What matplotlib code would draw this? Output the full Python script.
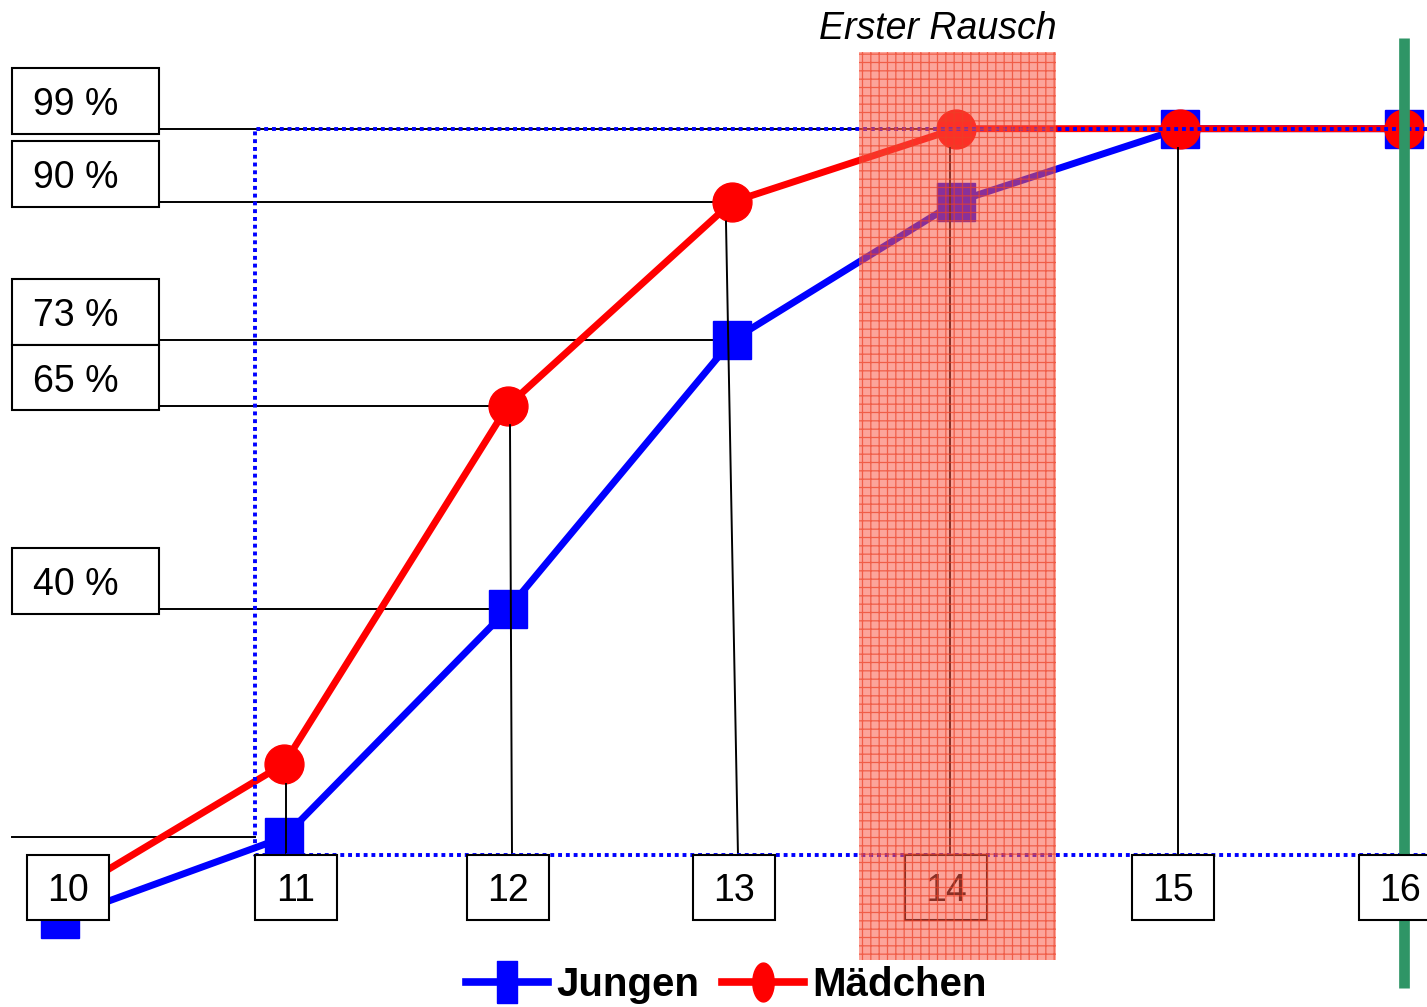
import numpy as np
import matplotlib
matplotlib.use('Agg')
import matplotlib.pyplot as plt
from matplotlib.patches import Rectangle
from matplotlib.lines import Line2D

plt.rcParams['font.family'] = ['Liberation Sans', 'DejaVu Sans']
plt.rcParams['hatch.linewidth'] = 0.9

#%%============================================================================
# data: share of kids (%) who already had alcohol, by age
#==============================================================================
ages = [10, 11, 12, 13, 14, 15, 16]
age_labels = ['10', '11', '12', '13', '14', '15', '16']
jungen = [2, 12, 40, 73, 90, 99, 99]
maedchen = [4.5, 21, 65, 90, 99, 99, 99]
pct_marks = [99, 90, 73, 65, 40]
pct_labels = ['99 %', '90 %', '73 %', '65 %', '40 %']
rausch_age = 14

#%%============================================================================
# layout helpers (one pixel in data units)
#==============================================================================
PX = 1 / 224.0
PY = 1 / 8.144
BASE = 9.8          # top of the age boxes
FRAME_X = 10.87     # left side of the dotted frame
XMIN, XMAX = 9.732, 16.103

fig = plt.figure(figsize=(14.27, 10.07), dpi=100)
ax = fig.add_axes([0, 0, 1, 1])
ax.set_xlim(XMIN, XMAX)
ax.set_ylim(-8.84, 114.8)
ax.axis('off')

# the two curves
lj, = ax.plot(ages, jungen, color='#0000ff', lw=5, marker='s', ms=28,
              mec='#0000ff', zorder=3)
lm, = ax.plot(ages, maedchen, color='#ff0000', lw=5, marker='o', ms=28,
              mec='#ff0000', zorder=3.1)

# horizontal leader lines from the percent boxes
box_l, box_r = XMIN + 12 * PX, XMIN + 159 * PX
for p in pct_marks:
    hits = [a for a, j, m in zip(ages, jungen, maedchen) if p in (j, m)]
    x_end = XMAX if p == max(pct_marks) else hits[0]
    ax.plot([box_r, x_end], [p, p], color='k', lw=1.4, zorder=2)
ax.plot([box_l, FRAME_X], [jungen[1], jungen[1]], color='k', lw=1.4, zorder=2)

# vertical leader lines down to the age boxes
vl_dx = [(2, 2), (2, 4), (-6, 6), (-6, -6), (-2, -2)]
for a, top, (d0, d1) in zip(ages[1:6], maedchen[1:6], vl_dx):
    ax.plot([a + d0 * PX, a + d1 * PX], [top - 2.4, BASE], color='k',
            lw=1.4, zorder=4)

# dotted frame
ax.plot([XMAX, FRAME_X, FRAME_X, XMAX], [max(pct_marks), max(pct_marks), BASE, BASE],
        color='#0000ff', lw=2.8, ls=(0, (1, 1)), zorder=4.5)

# green line at 16
ax.plot([16, 16], [110.1, -6.5], color='#2f9566', lw=7.7,
        solid_capstyle='butt', zorder=5)

# percent boxes on the left
for p, lab in zip(pct_marks, pct_labels):
    ax.add_patch(Rectangle((box_l, p - 0.6), box_r - box_l, 8.1, fc='white',
                           ec='k', lw=1.5, zorder=6))
    ax.text(XMIN + 33 * PX, p - 0.6 + 3.55, lab, fontsize=27, ha='left',
            va='center', zorder=7)

# age boxes
bx_dx = [8, 12, 0, 2, -10, -7, -4]
bw, bh = 82 * PX, 7.98
for a, lab, d in zip(ages, age_labels, bx_dx):
    xc = a + d * PX
    ax.add_patch(Rectangle((xc - bw / 2, BASE - bh), bw, bh, fc='white',
                           ec='k', lw=1.5, zorder=6))
    ax.text(xc, BASE - bh / 2 - 0.35, lab, fontsize=27, ha='center',
            va='center', zorder=7)

# "Erster Rausch" band
ax.add_patch(Rectangle((rausch_age - 0.433, -3.07), 0.879, 111.5,
                       fc=(0.98, 0.35, 0.28, 0.55), ec=(0.92, 0.25, 0.15, 0.7),
                       lw=0, hatch='++', zorder=8))
ax.text(rausch_age - 0.08, 111.2, 'Erster Rausch', fontsize=27, style='italic',
        ha='center', va='center', zorder=9)

# legend with squeezed markers like the original
t = np.linspace(0, 2 * np.pi, 40)
ell = list(zip(0.55 * np.cos(t), np.sin(t)))
rect = [(-0.47, -1), (0.47, -1), (0.47, 1), (-0.47, 1), (-0.47, -1)]
h1 = Line2D([], [], color='#0000ff', lw=5.5, marker=rect, ms=30,
            mec='#0000ff', mfc='#0000ff')
h2 = Line2D([], [], color='#ff0000', lw=5.5, marker=ell, ms=28,
            mec='#ff0000', mfc='#ff0000')
ax.legend([h1, h2], ['Jungen', 'Mädchen'], loc='center',
          bbox_to_anchor=(0.509, 0.022), ncol=2, frameon=False,
          prop=dict(weight='bold', size=29), handlelength=2.05,
          handletextpad=0.2, columnspacing=0.55, borderpad=0)

fig.savefig('out.png', dpi=100)
